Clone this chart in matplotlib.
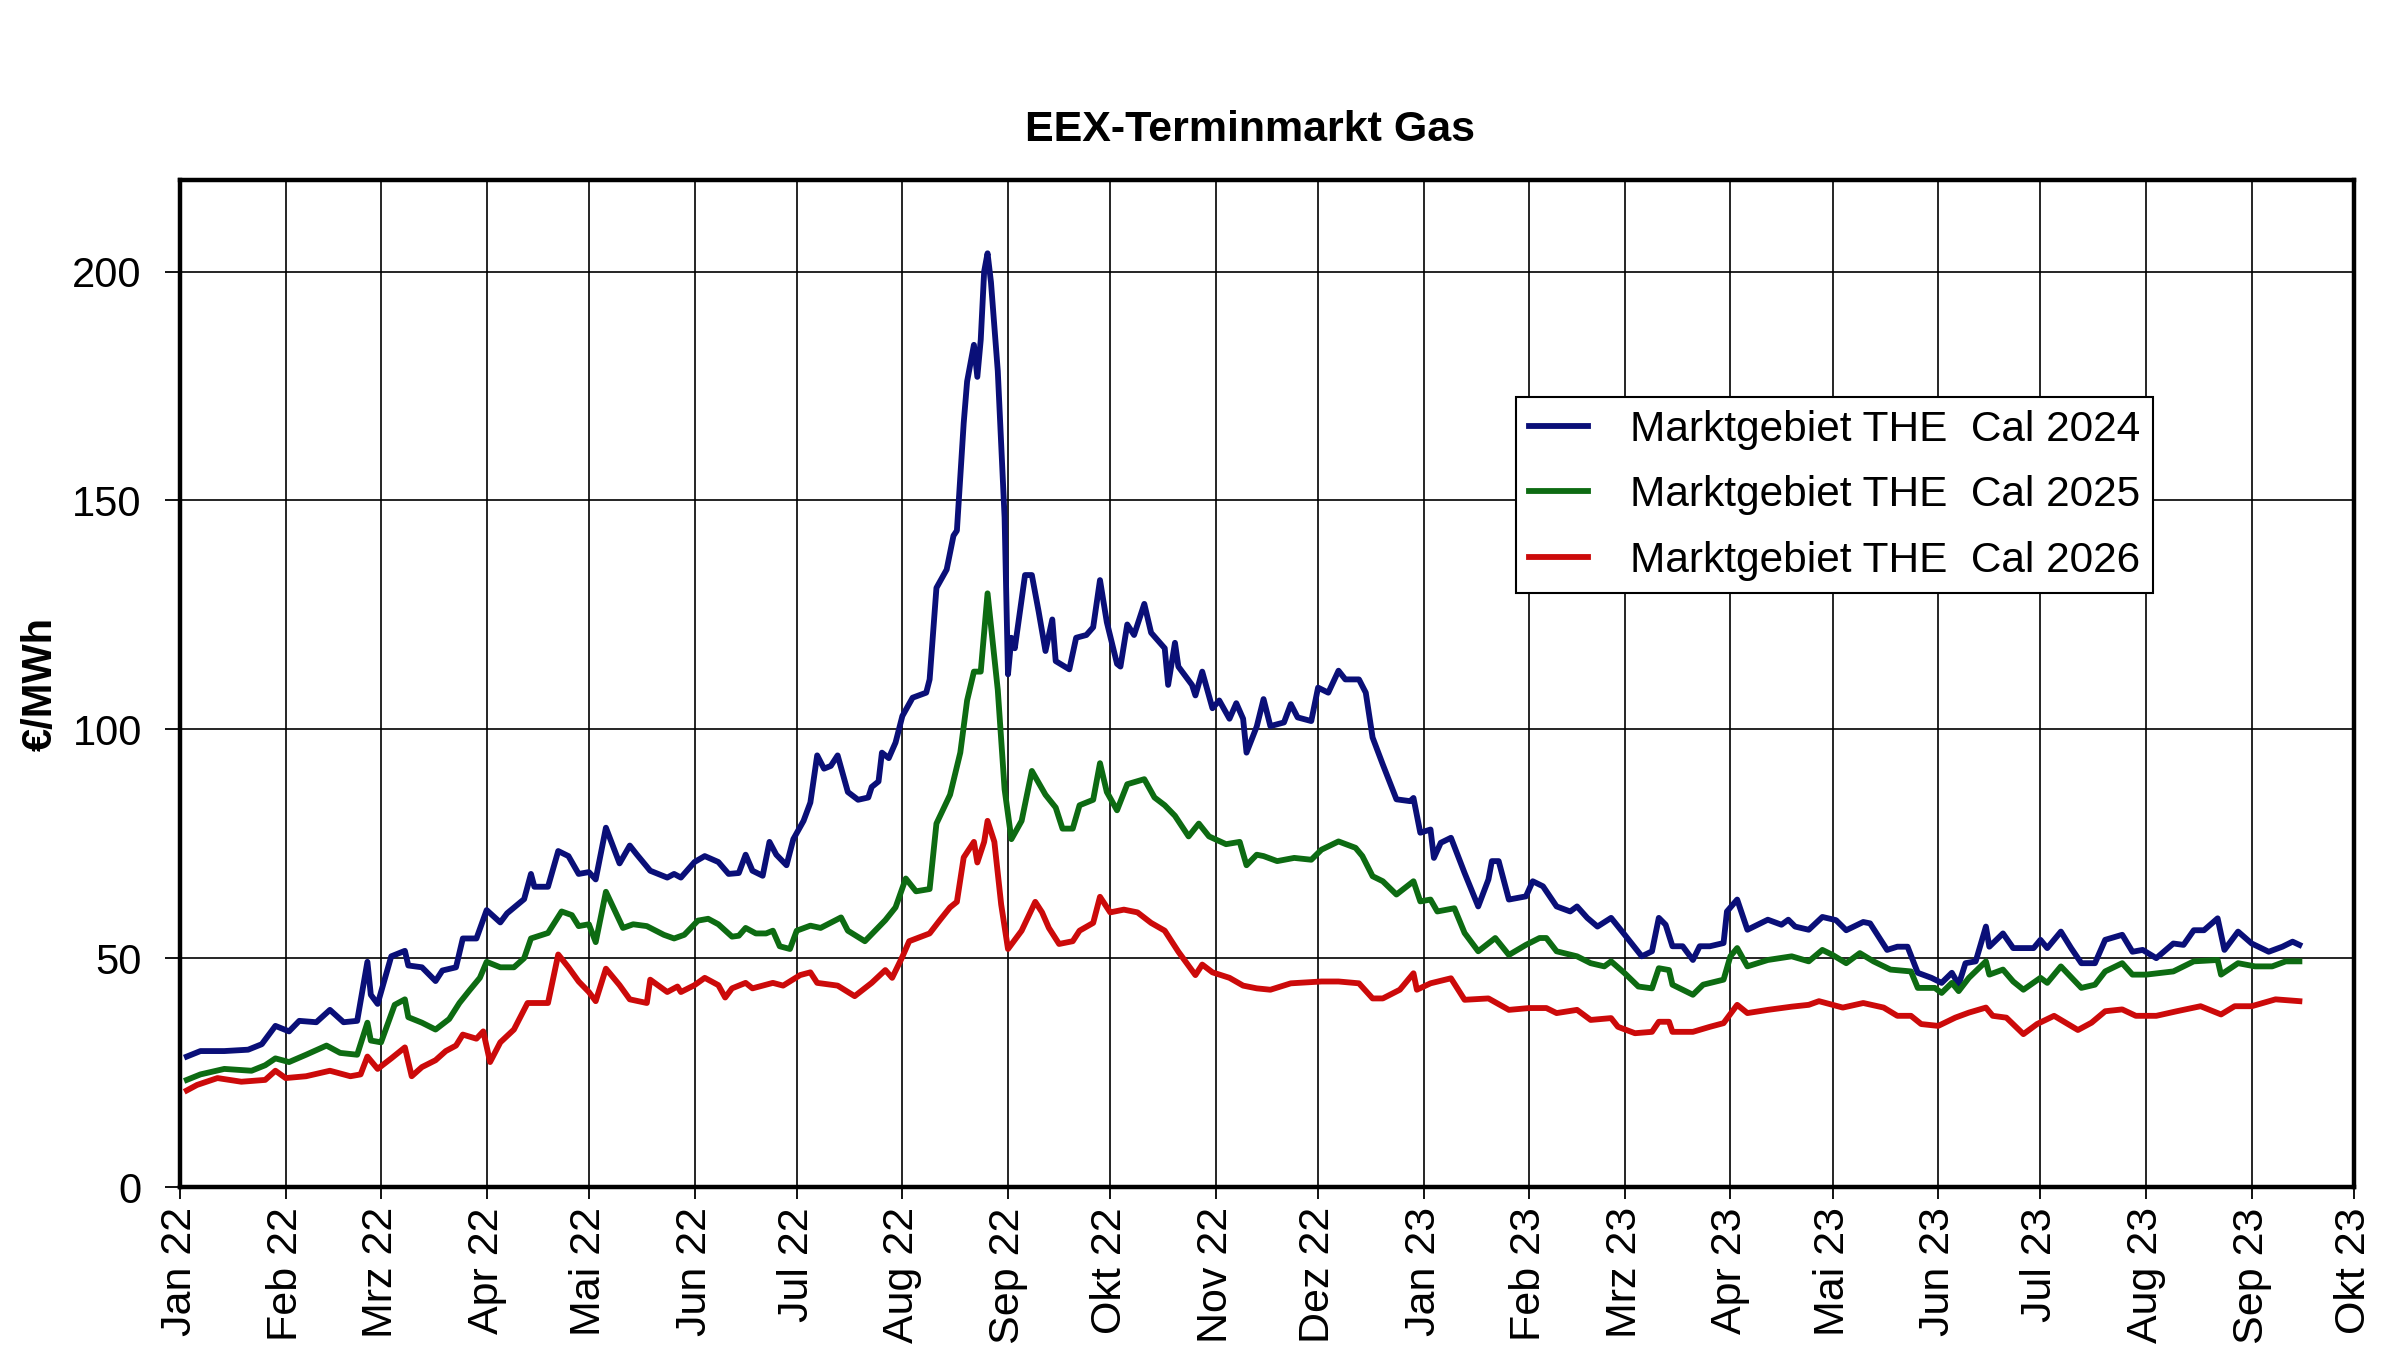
import numpy as np
import pandas as pd
import matplotlib
matplotlib.use('Agg')
import matplotlib.pyplot as plt

plt.rcParams['font.family'] = ['Liberation Sans', 'DejaVu Sans']

# Tage seit 01.01.2022 und Preise in EUR/MWh
days_2024 = [2, 6, 13, 20, 24, 28, 32, 35, 40, 44, 48, 52, 55, 56, 58, 62, 66, 67, 71, 75,
             77, 81, 83, 87, 90, 94, 96, 101, 103, 104, 108, 111, 114, 117, 120, 122, 125, 129, 132, 134,
             138, 143, 145, 147, 151, 154, 158, 161,
             164, 166, 168, 171, 173, 175, 178, 180, 183, 185, 187, 189, 191, 193, 196, 199, 202, 203, 205, 206,
             208, 210, 212, 215, 219, 220, 222, 225, 227, 228, 230, 231, 233, 234, 235, 236, 237, 238, 240, 242,
             243, 244, 245, 248, 250, 252, 254, 256, 257, 261, 263, 266, 268, 270, 272, 275, 276, 278, 280, 283,
             285, 289, 290, 292, 293, 297, 298, 300, 303, 305, 308, 310, 312, 313, 316,
             318, 320, 324, 326, 328, 332, 334, 337, 340, 342, 346, 348, 350, 353, 357, 361, 362, 364, 367, 368,
             370, 373, 377, 381, 384, 385, 387, 390, 395, 397, 400, 404, 408, 410, 413, 416, 420, 424, 429, 432,
             434, 436, 438, 441, 444, 446, 449, 453, 454, 457, 460, 466, 470, 472, 474, 478,
             482, 486, 489, 494, 496, 501, 504, 507, 510, 514, 517, 520, 522, 524, 527, 530, 531, 535, 538, 544,
             546, 548, 552, 555, 558, 562, 565, 570, 573, 576, 580, 585, 588, 591, 594, 598, 600, 604, 608, 613,
             617, 620, 622]
cal_2024 = [28.5, 29.7, 29.7, 30, 31.2, 35.2, 34, 36.3, 36, 38.7, 36, 36.3, 49.2, 42, 40, 50.4, 51.6, 48.4, 48, 45,
            47.3, 48, 54.3, 54.3, 60.5, 57.8, 59.8, 62.9, 68.4, 65.6, 65.6, 73.4, 72.3, 68.4, 68.8, 67.2, 78.5, 70.7, 74.6, 72.7,
            69.1, 67.6, 68.4, 67.6, 71, 72.3, 71, 68.4,
            68.6, 72.6, 69.1, 68, 75.4, 72.6, 70.3, 76, 80, 84, 94.3, 91.4, 92, 94.3, 86.3, 84.6, 85.1, 87.4, 88.6, 94.9,
            93.7, 97.1, 102.9, 106.9, 108, 110.9, 130.9, 134.9, 142.3, 143.4, 166.9, 176, 184, 177, 185.1, 200, 204, 197.7, 178.3, 146.3,
            112, 120, 117.7, 133.7, 133.7, 125.7, 117.1, 124, 114.9, 113.1, 120, 120.6, 122.3, 132.6, 123.4, 114.3, 113.7, 122.9, 120.6, 127.4,
            121.1, 117.7, 109.7, 118.9, 113.7, 109.7, 107.4, 112.6, 104.6, 106.3, 102.3, 105.7, 102.3, 94.9, 100.6,
            106.6, 100.7, 101.5, 105.5, 102.6, 101.8, 109.1, 108, 112.8, 110.9, 110.9, 108, 98.2, 92.3, 84.7, 84.3, 85, 77.4, 78.1, 71.9,
            75.2, 76.3, 68.6, 61.3, 67.2, 71.2, 71.2, 62.8, 63.5, 66.8, 65.7, 61.3, 60.2, 61.3, 58.8, 56.9, 58.8, 55.1, 50.4, 51.5,
            58.8, 57.3, 52.6, 52.6, 49.6, 52.6, 52.6, 53.3, 60.2, 62.8, 56.2, 58.4, 57.3, 58.4, 56.9, 56.2,
            59.0, 58.3, 56.1, 57.9, 57.6, 51.8, 52.5, 52.5, 46.8, 45.7, 44.6, 46.8, 44.2, 48.9, 49.3, 56.9, 52.5, 55.4, 52.2, 52.2,
            54.0, 52.2, 55.8, 52.2, 48.9, 48.9, 54.0, 55.1, 51.4, 51.8, 50, 53.2, 52.9, 56.1, 56.1, 58.7, 51.8, 55.8, 53.2, 51.4,
            52.5, 53.6, 52.9]

days_2025 = [2, 6, 13, 21, 25, 28, 32, 37, 43, 47, 52, 55, 56, 59, 63, 66, 67, 71, 75, 79,
             82, 85, 88, 90, 94, 98, 101, 103, 108, 112, 115, 117, 120, 122, 125, 130, 133, 137, 142, 145,
             148, 152, 155, 158, 162,
             164, 166, 169, 172, 174, 176, 179, 181, 185, 188, 194, 196, 201, 207, 210, 213, 216, 220, 222, 226,
             229, 231, 233, 235, 237, 240, 242, 244, 247, 250, 254, 257, 259, 262, 264, 268, 270, 272, 275, 278,
             283, 286, 289, 292, 296, 299, 302, 307, 311, 313, 316,
             318, 322, 327, 332, 335, 340, 345, 347, 350, 353, 357, 362, 364, 367, 369, 374, 377, 381, 386, 390,
             395, 399, 401, 404, 410, 414, 418, 420, 424, 428, 432, 434, 437, 438, 444, 447, 453, 455, 457, 460,
             466, 473, 478,
             482, 485, 489, 493, 497, 502, 508, 510, 515, 517, 520, 522, 525, 530, 531, 535, 538, 541, 546, 548,
             552, 558, 562, 565, 570, 573, 577, 585, 591, 598, 599, 604, 609, 614, 618, 622]
cal_2025 = [23.4, 24.6, 25.8, 25.4, 26.6, 28.1, 27.3, 28.9, 30.9, 29.3, 28.9, 35.9, 32, 31.6, 39.8, 41, 37.1, 35.9, 34.4, 36.7,
            40.2, 43, 45.7, 49.2, 48, 48, 50, 54.3, 55.5, 60.2, 59.4, 57, 57.4, 53.5, 64.5, 56.6, 57.4, 57, 55.1, 54.3,
            55.1, 58.2, 58.6, 57.4, 54.7,
            54.9, 56.6, 55.4, 55.4, 56, 52.6, 52, 56, 57.1, 56.6, 58.9, 56, 53.7, 58.3, 61.1, 67.4, 64.6, 65.1, 79.4, 85.7,
            94.9, 106.3, 112.6, 112.6, 129.7, 108.6, 86.9, 76, 80, 90.9, 85.7, 82.9, 78.3, 78.3, 83.4, 84.6, 92.6, 86.3, 82.3, 88,
            89.1, 85.1, 83.4, 81.1, 76.6, 79.4, 76.6, 74.9, 75.4, 70.3, 72.6,
            72.3, 71.2, 71.9, 71.5, 73.7, 75.5, 74.1, 72.3, 67.9, 66.8, 63.9, 66.8, 62.4, 62.8, 60.2, 60.9, 55.5, 51.5, 54.4, 50.7,
            52.9, 54.4, 54.4, 51.5, 50.4, 48.9, 48.2, 49.3, 46.7, 43.8, 43.4, 47.8, 47.4, 44.2, 42, 44.2, 45.3, 50.4, 52.2, 48.2,
            49.6, 50.4, 49.3,
            51.8, 50.7, 48.9, 51.1, 49.3, 47.5, 47.1, 43.5, 43.5, 42.4, 44.6, 42.8, 45.7, 49.3, 46.4, 47.5, 44.9, 43.1, 45.7, 44.6,
            48.2, 43.5, 44.2, 47.1, 48.9, 46.4, 46.4, 47.1, 49.3, 49.6, 46.4, 48.9, 48.2, 48.2, 49.3, 49.3]

days_2026 = [2, 5, 11, 18, 25, 28, 31, 37, 44, 50, 53, 55, 58, 62, 66, 68, 71, 75, 78, 81,
             83, 87, 89, 91, 94, 98, 102, 108, 111, 114, 117, 120, 122, 125, 129, 132, 137, 138, 143, 146,
             147, 151, 154, 158, 160,
             162, 166, 168, 174, 177, 182, 185, 187, 193, 198, 203, 207, 209, 212, 214, 220, 223, 226, 228, 230,
             233, 234, 236, 237, 239, 241, 243, 247, 251, 253, 255, 258, 262, 264, 268, 270, 273, 277, 281, 285,
             289, 293, 298, 300, 303, 308, 312, 316,
             320, 326, 335, 340, 346, 350, 353, 358, 362, 363, 367, 373, 377, 384, 390, 396, 401, 404, 410, 414,
             420, 422, 427, 432, 434, 437, 438, 444, 449, 453, 457, 460, 466, 473, 478,
             481, 488, 494, 500, 504, 508, 511, 516, 521, 525, 530, 532, 536, 541, 545, 550, 557, 561, 565, 570,
             574, 580, 586, 593, 599, 603, 608, 615, 622]
cal_2026 = [21.1, 22.3, 23.8, 23, 23.4, 25.4, 23.8, 24.2, 25.4, 24.2, 24.6, 28.5, 25.8, 28.1, 30.5, 24.2, 26.2, 27.7, 29.7, 30.9,
            33.3, 32.4, 34, 27.3, 31.6, 34.4, 40.2, 40.2, 50.8, 48, 44.9, 42.6, 40.6, 47.7, 44.1, 41, 40.2, 45.3, 42.6, 43.8,
            42.6, 44.1, 45.7, 44.1, 41.4,
            43.4, 44.6, 43.4, 44.6, 44, 46.3, 46.9, 44.6, 44, 41.7, 44.6, 47.4, 45.7, 50.3, 53.7, 55.4, 58.3, 61.1, 62.3, 72,
            75.4, 70.9, 75.4, 80, 75.4, 61.7, 52, 56, 62.3, 60, 56.6, 53.1, 53.7, 56, 57.7, 63.4, 60, 60.6, 60, 57.7,
            56, 51.4, 46.3, 48.6, 46.9, 45.7, 44, 43.4,
            43.1, 44.5, 44.9, 44.9, 44.5, 41.2, 41.2, 43.1, 46.7, 43.1, 44.5, 45.6, 40.9, 41.2, 38.7, 39.1, 39.1, 38, 38.7, 36.5,
            36.9, 35, 33.6, 33.9, 36.1, 36.1, 33.9, 33.9, 35, 35.8, 39.8, 38, 38.7, 39.4, 39.8,
            40.6, 39.2, 40.2, 39.2, 37.4, 37.4, 35.6, 35.2, 37.0, 38.1, 39.2, 37.4, 37.0, 33.4, 35.6, 37.4, 34.3, 35.9, 38.4, 38.8,
            37.4, 37.4, 38.4, 39.5, 37.7, 39.5, 39.5, 41.0, 40.6]

series_labels = ['Marktgebiet THE  Cal 2024', 'Marktgebiet THE  Cal 2025', 'Marktgebiet THE  Cal 2026']
month_names = ['Jan', 'Feb', 'Mrz', 'Apr', 'Mai', 'Jun', 'Jul', 'Aug', 'Sep', 'Okt', 'Nov', 'Dez']
y_ticks = [0, 50, 100, 150, 200]

start = pd.Timestamp('2022-01-01')
end = pd.Timestamp('2023-10-01')

def to_dates(d):
    return start + pd.to_timedelta(d, unit='D')

fig = plt.figure(figsize=(24, 13.65), dpi=100)
ax = fig.add_axes([0.075, 0.1304, 0.9058, 0.7377])

farben = ['#0a0f78', '#0d6b12', '#cc0a0a']
for d, v, lab, c in zip([days_2024, days_2025, days_2026],
                        [cal_2024, cal_2025, cal_2026], series_labels, farben):
    ax.plot(to_dates(d), v, color=c, lw=4.2, label=lab, solid_joinstyle='round')

monate = pd.date_range(start, end, freq='MS')
ax.set_xticks(monate)
ax.set_xticklabels([f'{month_names[m.month - 1]} {m.year % 100:02d}' for m in monate],
                   rotation=90, ha='center', va='top', fontsize=31)
ax.set_xlim(start, end)
ax.set_ylim(0, 220)
ax.set_yticks(y_ticks)
ax.tick_params(axis='y', labelsize=30, length=10.5, width=1.3, pad=17)
ax.tick_params(axis='x', length=8.5, width=1.3, pad=6)

ax.grid(True, color='black', lw=1.2)
ax.set_axisbelow(True)
for s in ax.spines.values():
    s.set_linewidth(3.2)

ax.set_ylabel('€/MWh', fontsize=30, fontweight='bold')
ax.yaxis.set_label_coords(-0.055, 0.5)

fig.text(0.521, 0.905, 'EEX-Terminmarkt Gas', fontsize=31, fontweight='bold',
         ha='center', va='center')

leg = ax.legend(loc='upper left', bbox_to_anchor=(0.6145, 0.7845), borderaxespad=0,
                fontsize=30.5, frameon=True, fancybox=False, framealpha=1,
                edgecolor='black', handlelength=1.4, handletextpad=1.0,
                labelspacing=0.6, borderpad=0.3)
leg.get_frame().set_linewidth(1.5)

fig.savefig('out.png', dpi=100, facecolor='white')
